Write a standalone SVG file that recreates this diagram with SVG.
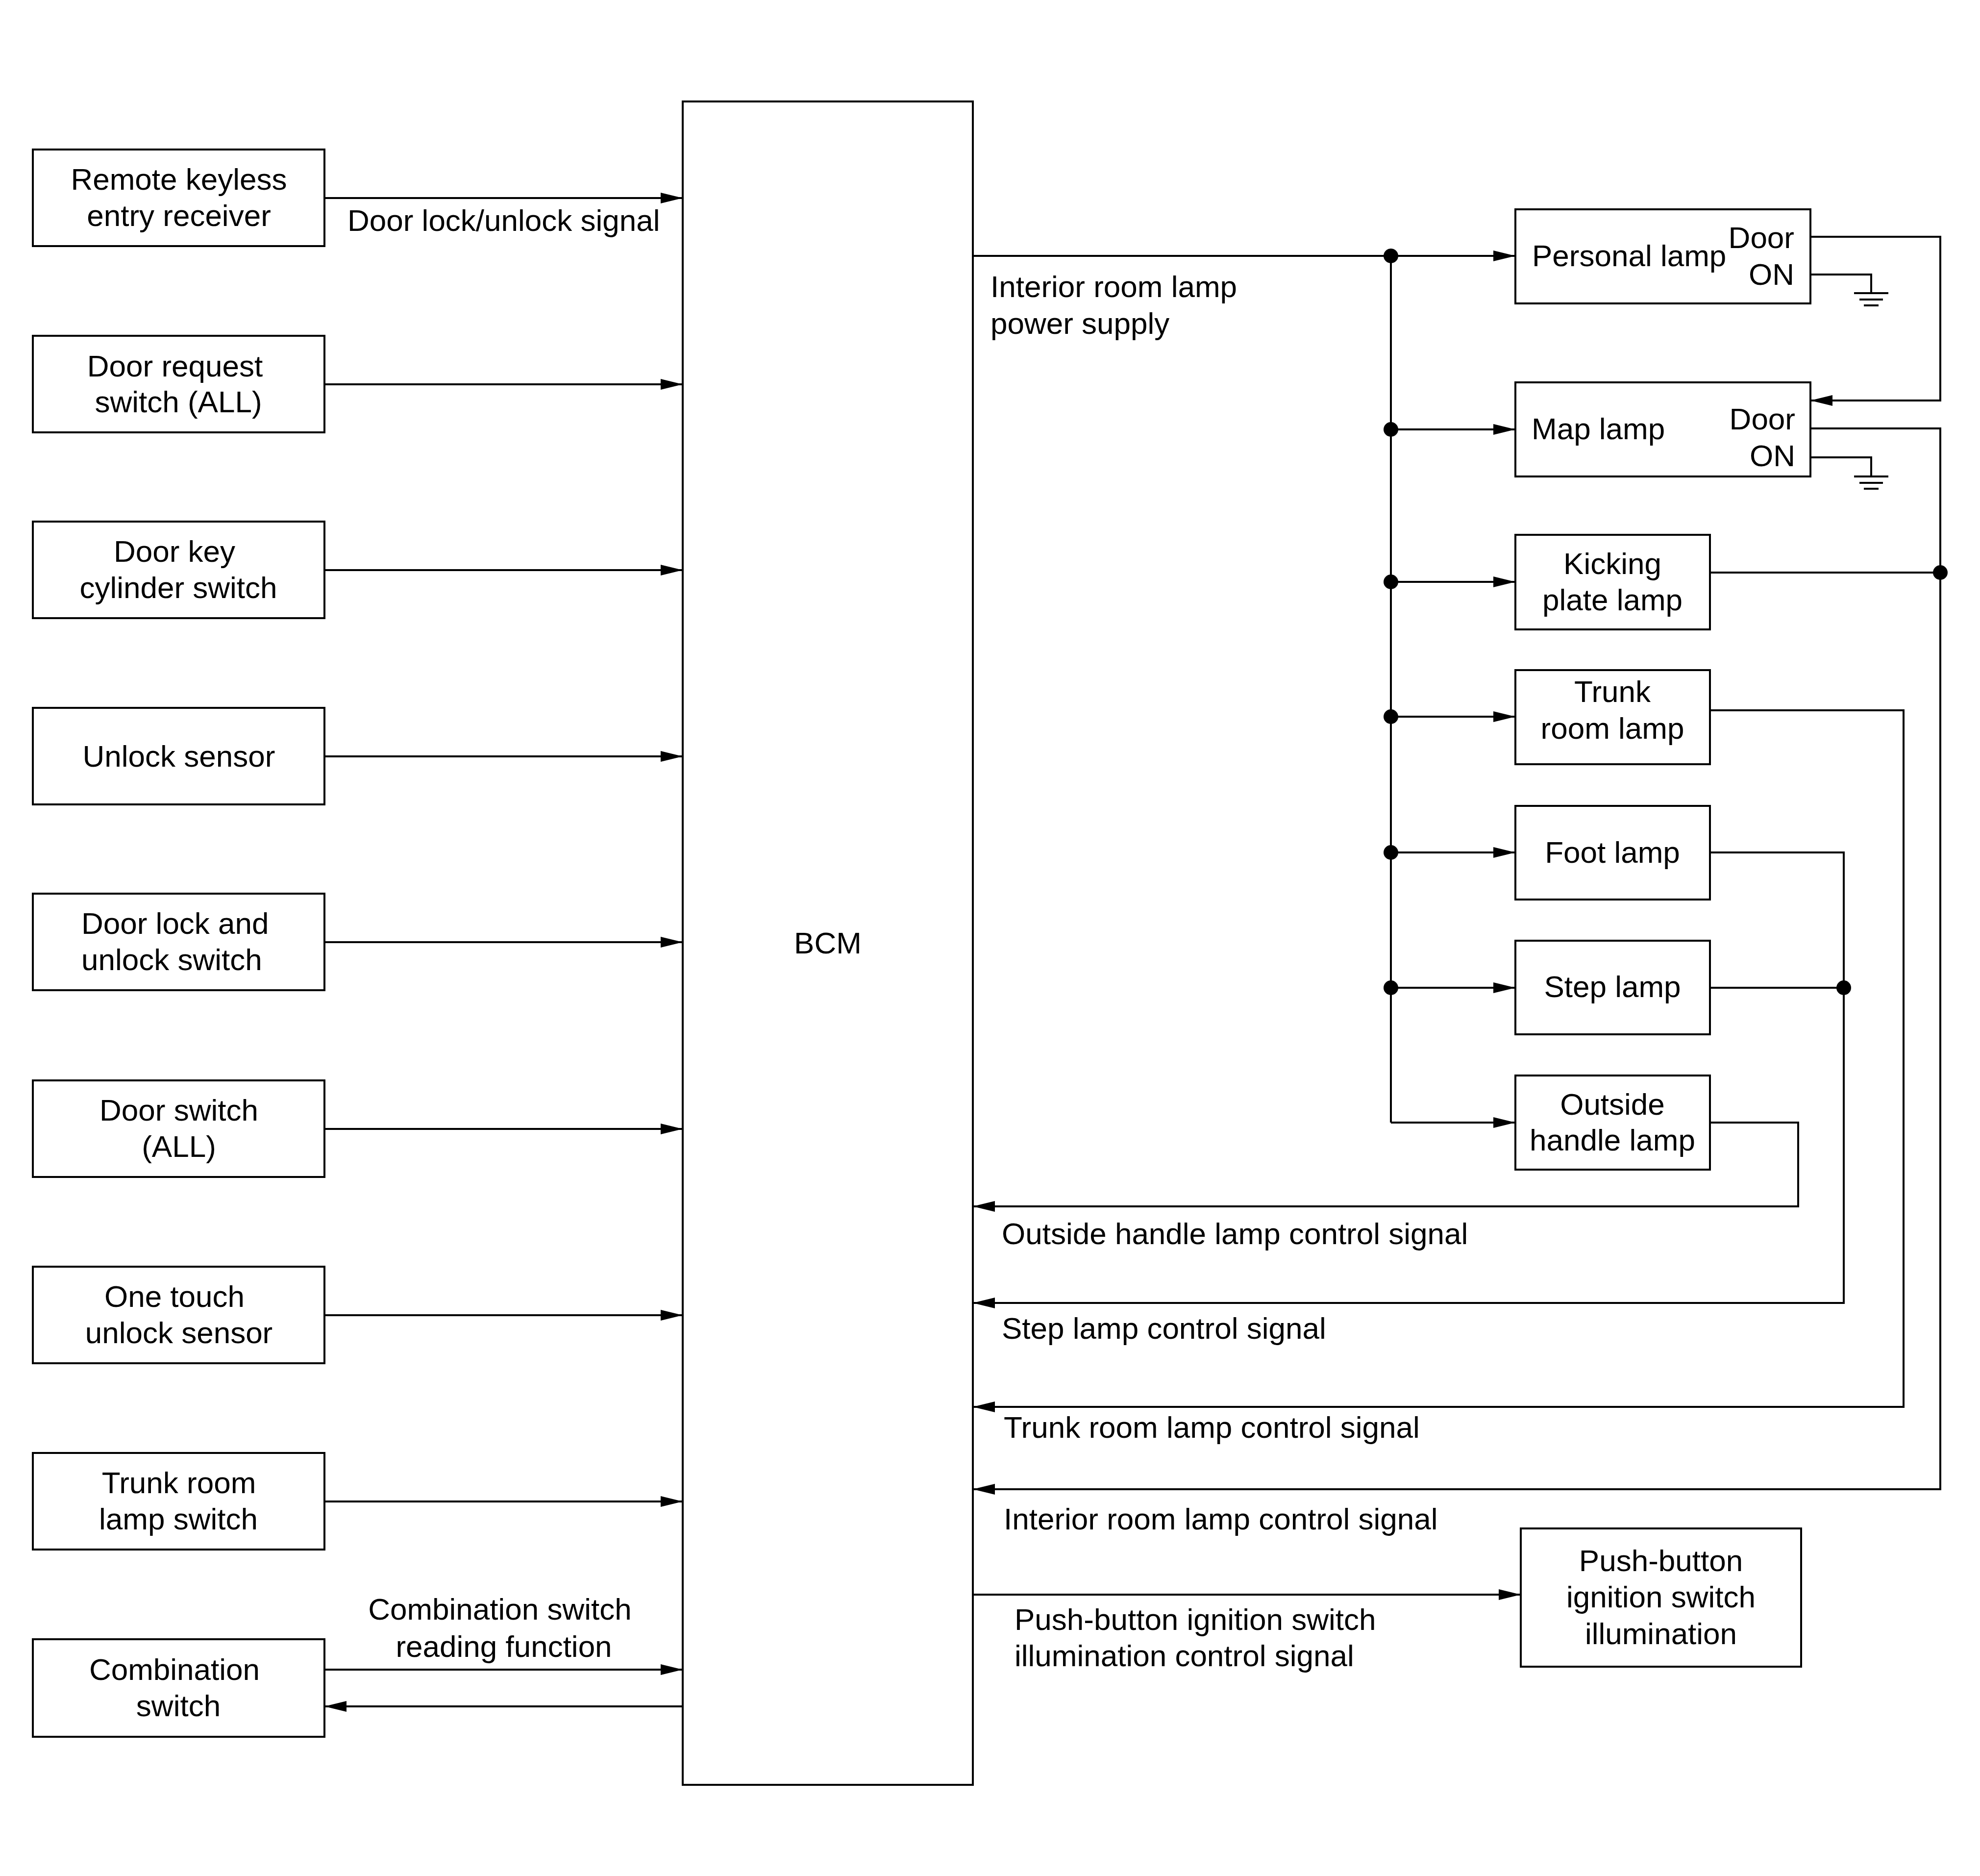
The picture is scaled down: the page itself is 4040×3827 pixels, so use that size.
<svg xmlns="http://www.w3.org/2000/svg" width="4040" height="3827" viewBox="0 0 4040 3827">
<style>
.box{fill:#fff;stroke:#000;stroke-width:4}
.w{fill:none;stroke:#000;stroke-width:4}
.a{fill:none;stroke:#000;stroke-width:4;marker-end:url(#ah)}
.t{font-family:"Liberation Sans",Arial,sans-serif;font-size:62px;fill:#000}
.m{text-anchor:middle}
.e{text-anchor:end}
.dot{fill:#000}
</style>
<defs>
<marker id="ah" markerUnits="userSpaceOnUse" markerWidth="46" markerHeight="24" viewBox="0 -12 46 24" refX="45" refY="0" orient="auto">
<path d="M0,-11 L45,0 L0,11 Z" fill="#000"/>
</marker>
</defs>
<rect width="4040" height="3827" fill="#fff"/>

<g id="connectors">
<line class="a" x1="662" y1="404" x2="1393" y2="404"/>
<line class="a" x1="662" y1="784" x2="1393" y2="784"/>
<line class="a" x1="662" y1="1163" x2="1393" y2="1163"/>
<line class="a" x1="662" y1="1543" x2="1393" y2="1543"/>
<line class="a" x1="662" y1="1922" x2="1393" y2="1922"/>
<line class="a" x1="662" y1="2303" x2="1393" y2="2303"/>
<line class="a" x1="662" y1="2683" x2="1393" y2="2683"/>
<line class="a" x1="662" y1="3063" x2="1393" y2="3063"/>
<line class="a" x1="662" y1="3406" x2="1393" y2="3406"/>
<line class="a" x1="1393" y1="3481" x2="662" y2="3481"/>
<line class="a" x1="1985" y1="522" x2="3092" y2="522"/>
<line class="w" x1="2838" y1="522" x2="2838" y2="2290"/>
<line class="a" x1="2838" y1="876" x2="3092" y2="876"/>
<line class="a" x1="2838" y1="1187" x2="3092" y2="1187"/>
<line class="a" x1="2838" y1="1462" x2="3092" y2="1462"/>
<line class="a" x1="2838" y1="1739" x2="3092" y2="1739"/>
<line class="a" x1="2838" y1="2015" x2="3092" y2="2015"/>
<line class="a" x1="2838" y1="2290" x2="3092" y2="2290"/>
<circle class="dot" cx="2838" cy="522" r="15"/>
<circle class="dot" cx="2838" cy="876" r="15"/>
<circle class="dot" cx="2838" cy="1187" r="15"/>
<circle class="dot" cx="2838" cy="1462" r="15"/>
<circle class="dot" cx="2838" cy="1739" r="15"/>
<circle class="dot" cx="2838" cy="2015" r="15"/>
<polyline class="a" points="3694,483 3959,483 3959,817 3694,817"/>
<polyline class="a" points="3694,874 3959,874 3959,3038 1985,3038"/>
<line class="w" x1="3488" y1="1168" x2="3959" y2="1168"/>
<circle class="dot" cx="3959" cy="1168" r="15"/>
<polyline class="a" points="3489,1449 3884,1449 3884,2870 1985,2870"/>
<polyline class="a" points="3489,1739 3762,1739 3762,2658 1985,2658"/>
<line class="w" x1="3489" y1="2015" x2="3762" y2="2015"/>
<circle class="dot" cx="3762" cy="2015" r="15"/>
<polyline class="a" points="3489,2290 3669,2290 3669,2461 1985,2461"/>
<line class="a" x1="1985" y1="3253" x2="3103" y2="3253"/>
<polyline class="w" points="3694,560 3818,560 3818,598"/>
<line class="w" x1="3783" y1="598" x2="3853" y2="598"/>
<line class="w" x1="3794" y1="611" x2="3842" y2="611"/>
<line class="w" x1="3803" y1="623" x2="3833" y2="623"/>
<polyline class="w" points="3694,933 3818,933 3818,972"/>
<line class="w" x1="3783" y1="972" x2="3853" y2="972"/>
<line class="w" x1="3794" y1="985" x2="3842" y2="985"/>
<line class="w" x1="3803" y1="997" x2="3833" y2="997"/>
<text class="t" x="709" y="471">Door lock/unlock signal</text>
<text class="t" x="2021" y="606">Interior room lamp</text>
<text class="t" x="2021" y="681">power supply</text>
<text class="t" x="2044" y="2538">Outside handle lamp control signal</text>
<text class="t" x="2044" y="2731">Step lamp control signal</text>
<text class="t" x="2048" y="2933">Trunk room lamp control signal</text>
<text class="t" x="2048" y="3120">Interior room lamp control signal</text>
<text class="t" x="2070" y="3325">Push-button ignition switch</text>
<text class="t" x="2070" y="3399">illumination control signal</text>
<text class="t m" x="1020" y="3304">Combination switch</text>
<text class="t m" x="1028" y="3380">reading function</text>
</g>

<g id="bcm">
<rect class="box" x="1393" y="207" width="592" height="3434"/>
<text class="t m" x="1689" y="1945">BCM</text>
</g>

<g id="remote-keyless">
<rect class="box" x="67" y="305" width="595" height="197"/>
<text class="t m" x="365" y="387">Remote keyless</text>
<text class="t m" x="365" y="461">entry receiver</text>
</g>
<g id="door-request">
<rect class="box" x="67" y="685" width="595" height="197"/>
<text class="t m" x="357" y="768">Door request</text>
<text class="t m" x="364" y="841">switch (ALL)</text>
</g>
<g id="door-key">
<rect class="box" x="67" y="1064" width="595" height="197"/>
<text class="t m" x="356" y="1146">Door key</text>
<text class="t m" x="364" y="1220">cylinder switch</text>
</g>
<g id="unlock-sensor">
<rect class="box" x="67" y="1444" width="595" height="197"/>
<text class="t m" x="365" y="1564">Unlock sensor</text>
</g>
<g id="door-lock-unlock">
<rect class="box" x="67" y="1823" width="595" height="197"/>
<text class="t" x="166" y="1905">Door lock and</text>
<text class="t" x="166" y="1979">unlock switch</text>
</g>
<g id="door-switch">
<rect class="box" x="67" y="2204" width="595" height="197"/>
<text class="t m" x="365" y="2286">Door switch</text>
<text class="t m" x="365" y="2360">(ALL)</text>
</g>
<g id="one-touch">
<rect class="box" x="67" y="2584" width="595" height="197"/>
<text class="t m" x="356" y="2666">One touch</text>
<text class="t m" x="365" y="2740">unlock sensor</text>
</g>
<g id="trunk-switch">
<rect class="box" x="67" y="2964" width="595" height="197"/>
<text class="t m" x="365" y="3046">Trunk room</text>
<text class="t m" x="364" y="3120">lamp switch</text>
</g>
<g id="combination-switch">
<rect class="box" x="67" y="3344" width="595" height="199"/>
<text class="t m" x="356" y="3427">Combination</text>
<text class="t m" x="364" y="3501">switch</text>
</g>

<g id="personal-lamp">
<rect class="box" x="3092" y="427" width="602" height="192"/>
<text class="t" x="3126" y="543">Personal lamp</text>
<text class="t e" x="3661" y="506">Door</text>
<text class="t e" x="3661" y="581">ON</text>
</g>
<g id="map-lamp">
<rect class="box" x="3092" y="780" width="602" height="192"/>
<text class="t" x="3125" y="896">Map lamp</text>
<text class="t e" x="3663" y="876">Door</text>
<text class="t e" x="3663" y="951">ON</text>
</g>
<g id="kicking-plate-lamp">
<rect class="box" x="3092" y="1091" width="397" height="193"/>
<text class="t m" x="3290" y="1171">Kicking</text>
<text class="t m" x="3290" y="1245">plate lamp</text>
</g>
<g id="trunk-room-lamp">
<rect class="box" x="3092" y="1367" width="397" height="192"/>
<text class="t m" x="3290" y="1432">Trunk</text>
<text class="t m" x="3290" y="1507">room lamp</text>
</g>
<g id="foot-lamp">
<rect class="box" x="3092" y="1644" width="397" height="191"/>
<text class="t m" x="3290" y="1760">Foot lamp</text>
</g>
<g id="step-lamp">
<rect class="box" x="3092" y="1919" width="397" height="191"/>
<text class="t m" x="3290" y="2034">Step lamp</text>
</g>
<g id="outside-handle-lamp">
<rect class="box" x="3092" y="2194" width="397" height="192"/>
<text class="t m" x="3290" y="2274">Outside</text>
<text class="t m" x="3290" y="2347">handle lamp</text>
</g>
<g id="push-button-illumination">
<rect class="box" x="3103" y="3118" width="572" height="282"/>
<text class="t m" x="3389" y="3205">Push-button</text>
<text class="t m" x="3389" y="3279">ignition switch</text>
<text class="t m" x="3389" y="3354">illumination</text>
</g>
</svg>
